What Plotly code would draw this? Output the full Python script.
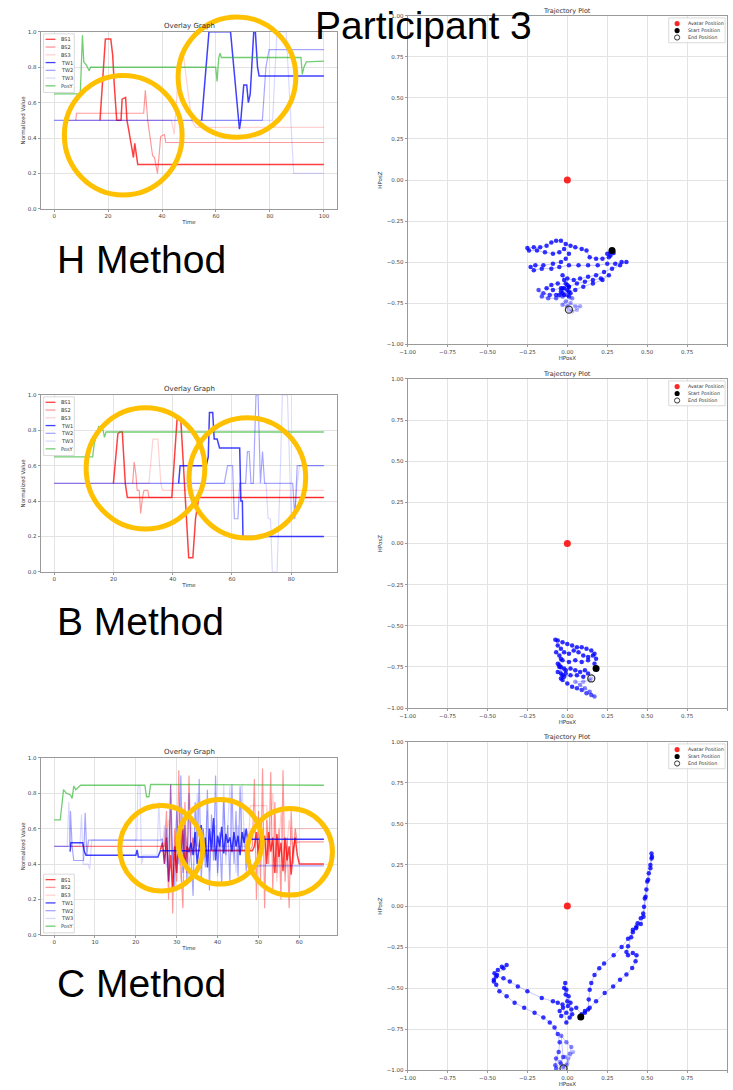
import numpy as np
import plotly.graph_objects as go

W, H = 733, 1090

# ---------------- overlay graph data: H method ----------------
h_bs1_t = [17, 18, 19, 21, 21.7, 22.3, 23.2, 24.8, 25.2, 26.5, 27.0, 27.6, 28.2, 28.8, 29.4, 29.9, 30.4, 31.0, 100]
h_bs1_v = [0.50, 0.75, 0.96, 0.96, 0.87, 0.70, 0.50, 0.50, 0.62, 0.63, 0.50, 0.45, 0.40, 0.33, 0.29, 0.37, 0.30, 0.25, 0.25]
h_bs2_t = [8, 8.3, 33.2, 33.8, 34.7, 35.3, 36.5, 37.2, 38.3, 38.9, 39.5, 40.9, 41.4, 100]
h_bs2_v = [0.50, 0.54, 0.54, 0.67, 0.50, 0.43, 0.30, 0.29, 0.20, 0.30, 0.41, 0.42, 0.375, 0.375]
h_bs3_t = [5, 43.5, 44.5, 46.5, 48, 51, 52.5, 100]
h_bs3_v = [0.50, 0.50, 0.42, 0.87, 0.86, 0.50, 0.46, 0.46]
h_tw1_t = [54.7, 56, 57.4, 65.4, 66.8, 68.0, 68.7, 69.2, 70.3, 71.4, 72.0, 72.7, 73.3, 74.0, 74.6, 75.4, 76.0, 100]
h_tw1_v = [0.50, 0.75, 1.00, 1.00, 0.75, 0.55, 0.45, 0.50, 0.70, 0.70, 0.60, 0.65, 0.80, 1.00, 1.00, 0.80, 0.75, 0.75]
h_tw2_t = [0, 77.2, 78.5, 79.7, 100]
h_tw2_v = [0.50, 0.50, 0.80, 0.90, 0.90]
h_tw3_t = [0, 81, 82.6, 86, 88.8, 100]
h_tw3_v = [0.50, 0.50, 1.00, 1.00, 0.20, 0.20]
h_posy_t = [0, 9.7, 10.5, 11, 12, 13, 13.5, 59.9, 60.4, 61, 61.5, 62, 91.5, 92, 92.6, 93.5, 100]
h_posy_v = [0.65, 0.65, 0.98, 0.83, 0.81, 0.78, 0.80, 0.80, 0.72, 0.85, 0.88, 0.855, 0.855, 0.76, 0.80, 0.83, 0.835]

# ---------------- overlay graph data: B method ----------------
b_bs1_t = [20, 21.5, 22.2, 23.0, 24.0, 24.7, 39.7, 41.5, 42.7, 43.5, 44.3, 45.4, 46.8, 47.7, 48.8, 91]
b_bs1_v = [0.50, 0.78, 0.79, 0.79, 0.50, 0.42, 0.42, 0.87, 0.87, 0.65, 0.42, 0.08, 0.08, 0.30, 0.42, 0.42]
b_bs2_t = [26.5, 27.0, 27.6, 28.0, 28.7, 29.2, 29.8, 30.3, 31.6, 32.0, 91]
b_bs2_v = [0.50, 0.62, 0.55, 0.46, 0.46, 0.33, 0.42, 0.46, 0.46, 0.42, 0.42]
b_bs3_t = [0, 32, 33.3, 35, 36, 36.6, 91]
b_bs3_v = [0.50, 0.50, 0.75, 0.75, 0.50, 0.46, 0.46]
b_tw1_t = [42, 42.5, 51.3, 52.0, 52.4, 53.5, 54.0, 55.0, 55.8, 62.6, 63.0, 63.5, 63.7, 91]
b_tw1_v = [0.50, 0.60, 0.60, 0.65, 0.90, 0.90, 0.75, 0.75, 0.70, 0.70, 0.40, 0.40, 0.20, 0.20]
b_tw2_t = [0, 57.4, 58.5, 60.2, 60.8, 62.0, 62.6, 64.6, 65.2, 65.8, 66.4, 67.2, 68.1, 68.8, 69.6, 70.3, 71.0, 80.5, 81.2, 82.0, 91]
b_tw2_v = [0.50, 0.50, 0.60, 0.60, 0.30, 0.30, 0.50, 0.50, 0.68, 0.68, 0.50, 0.50, 1.00, 1.00, 0.50, 0.68, 0.50, 0.50, 0.30, 0.60, 0.60]
b_tw3_t = [0, 71.5, 72.2, 73.0, 73.6, 75.2, 76.2, 77.0, 78.7, 80.0, 81.0, 82.0, 82.8, 91]
b_tw3_v = [0.50, 0.50, 0.30, 0.30, 0.00, 0.00, 0.50, 1.00, 1.00, 0.30, 0.30, 0.50, 0.60, 0.60]
b_posy_t = [0, 13.0, 13.5, 15.0, 16.5, 17.0, 17.5, 91]
b_posy_v = [0.65, 0.65, 0.72, 0.82, 0.80, 0.76, 0.79, 0.79]

# ---------------- overlay graph data: C method ----------------
c_posy_t = [0, 1.5, 2.3, 3.0, 4.0, 4.4, 4.8, 5.3, 6.5, 22.2, 22.6, 23.2, 23.6, 66]
c_posy_v = [0.65, 0.65, 0.82, 0.80, 0.79, 0.77, 0.84, 0.82, 0.845, 0.845, 0.78, 0.78, 0.85, 0.845]

c_tw1_pre_t = [3.9, 4.1, 4.4, 7.0, 7.4, 7.8, 8.3, 20.0, 20.3, 20.6, 25.4, 26.0, 32.5]
c_tw1_pre_v = [0.47, 0.52, 0.52, 0.52, 0.47, 0.45, 0.45, 0.45, 0.48, 0.44, 0.44, 0.475, 0.475]
c_tw1_noisy = [0.47, 0.52, 0.45, 0.58, 0.40, 0.50, 0.62, 0.44, 0.55, 0.38, 0.60, 0.48, 0.66, 0.42, 0.56, 0.50,
               0.61, 0.46, 0.57, 0.52, 0.55, 0.47, 0.58, 0.50, 0.56, 0.45, 0.58, 0.52, 0.60, 0.50, 0.54]
c_tw1_end = 0.54

c_bs1_noisy_a = [0.48, 0.52, 0.40, 0.55, 0.30, 0.45, 0.25, 0.50, 0.35, 0.58, 0.42, 0.60, 0.38, 0.50, 0.475]
c_bs1_mid = 0.475
c_bs1_noisy_b = [0.50, 0.58, 0.45, 0.60, 0.52, 0.56, 0.40, 0.58, 0.47, 0.55, 0.35, 0.57, 0.44, 0.52, 0.36, 0.55,
                 0.42, 0.50, 0.34, 0.48, 0.55, 0.45, 0.40, 0.40]
c_bs1_end = 0.40

c_bs2_pre_t = [3.9, 27.0]
c_bs2_pre_v = [0.50, 0.50]
c_bs2_noisy_a = [0.70, 0.20, 0.85, 0.12, 0.60, 0.30, 0.93, 0.40, 0.15, 0.75, 0.35, 0.90, 0.45, 0.55, 0.48, 0.48, 0.48]
c_bs2_mid = 0.48
c_bs2_noisy_b = [0.50, 0.88, 0.20, 0.70, 0.30, 0.94, 0.15, 0.65, 0.40, 0.92, 0.25, 0.75, 0.35, 0.60, 0.20, 0.93,
                 0.30, 0.55, 0.15, 0.70, 0.40, 0.60, 0.52, 0.525, 0.525]
c_bs2_end = 0.525

c_bs3_t = [0, 27, 28, 29, 30, 31, 32, 33, 34, 35, 36, 47.5, 48, 52, 52.5, 53.5, 54.5, 55.5, 56.5, 57.5, 58.5, 59, 66]
c_bs3_v = [0.50, 0.50, 0.65, 0.35, 0.70, 0.30, 0.60, 0.40, 0.55, 0.50, 0.50, 0.50, 0.73, 0.73, 0.45, 0.80, 0.30,
           0.70, 0.35, 0.65, 0.45, 0.60, 0.60]

c_tw2_pre_t = [0, 3.8, 4.0, 4.4, 4.8, 7.2, 7.6, 8.0, 8.4, 26.0]
c_tw2_pre_v = [0.50, 0.50, 0.70, 0.50, 0.42, 0.42, 0.69, 0.45, 0.535, 0.535]
c_tw2_noisy = [0.54, 0.40, 0.60, 0.30, 0.85, 0.45, 0.25, 0.70, 0.40, 0.90, 0.35, 0.62, 0.28, 0.80, 0.45, 0.22,
               0.75, 0.50, 0.88, 0.30, 0.60, 0.38, 0.82, 0.25, 0.68, 0.42, 0.90, 0.35, 0.58, 0.28, 0.77, 0.45,
               0.62, 0.30, 0.85, 0.40, 0.70, 0.33, 0.84, 0.48, 0.60, 0.36, 0.55, 0.40, 0.39]
c_tw2_end = 0.39

c_tw3_pre_t = [0, 3.2, 3.6, 4.0, 6.3, 6.7, 7.1, 8.3, 8.7, 9.2, 20.2, 20.5, 21.0, 21.4, 21.8, 25.2, 25.6, 26.0]
c_tw3_pre_v = [0.50, 0.50, 0.75, 0.50, 0.50, 0.68, 0.40, 0.40, 0.37, 0.535, 0.535, 0.84, 0.84, 0.40, 0.45, 0.45,
               0.75, 0.55]
c_tw3_noisy = [0.50, 0.62, 0.38, 0.55, 0.70, 0.42, 0.50, 0.35, 0.60, 0.48, 0.72, 0.40, 0.55, 0.30, 0.65, 0.50,
               0.45, 0.80, 0.52, 0.38, 0.60, 0.44, 0.70, 0.36, 0.58, 0.47, 0.62, 0.33, 0.55, 0.49, 0.85, 0.40,
               0.60, 0.84, 0.45, 0.55, 0.35, 0.62, 0.50, 0.85, 0.55, 0.45, 0.54]
c_tw3_end = 0.54

# ---------------- trajectory data (HPosX, HPosZ) ----------------
avatar_pos = (0.0, 0.0)

traj_h_x = [0.28, 0.27, 0.25, 0.27, 0.29, 0.26, 0.22, 0.18, 0.14, 0.12, 0.09, 0.05, 0.02, -0.01, -0.04, -0.07,
            -0.10, -0.13, -0.17, -0.21, -0.25, -0.24, -0.19, -0.14, -0.09, -0.05, -0.02, 0.01, -0.01, -0.04,
            -0.09, -0.15, -0.20, -0.23, -0.21, -0.16, -0.10, -0.05, 0.01, 0.07, 0.13, 0.19, 0.25, 0.30, 0.34,
            0.37, 0.33, 0.28, 0.23, 0.18, 0.13, 0.08, 0.04, 0.00, -0.03, -0.02, -0.01, 0.01, -0.03, 0.00,
            -0.04, 0.02, -0.02, 0.01, -0.05, -0.02, 0.00, -0.06, -0.10, -0.13, -0.09,
            -0.04, 0.01, 0.06, 0.11, 0.16, 0.21, 0.26, 0.22, 0.16, 0.10, 0.05, 0.01, -0.03, -0.07, -0.11,
            -0.15, -0.18, -0.16, -0.12, -0.07, -0.03, 0.00, 0.03, -0.01, -0.03, 0.00, 0.02, 0.05, 0.08, 0.06,
            0.03, 0.01]
traj_h_z = [-0.43, -0.44, -0.45, -0.46, -0.445, -0.47, -0.48, -0.48, -0.47, -0.43, -0.42, -0.41, -0.40, -0.39,
            -0.37, -0.37, -0.38, -0.40, -0.41, -0.41, -0.415, -0.43, -0.43, -0.44, -0.45, -0.44, -0.42, -0.45,
            -0.48, -0.50, -0.51, -0.52, -0.52, -0.53, -0.55, -0.54, -0.54, -0.53, -0.52, -0.52, -0.52, -0.52,
            -0.51, -0.51, -0.50, -0.50, -0.52, -0.54, -0.56, -0.58, -0.59, -0.60, -0.61, -0.60, -0.58, -0.61,
            -0.63, -0.65, -0.66, -0.67, -0.68, -0.69, -0.70, -0.71, -0.70, -0.66, -0.64,
            -0.63, -0.64, -0.66, -0.67, -0.66, -0.65, -0.63, -0.62, -0.61, -0.60, -0.58, -0.61, -0.63, -0.65,
            -0.67, -0.68, -0.69, -0.70, -0.70, -0.69, -0.67, -0.71, -0.72, -0.72, -0.71, -0.70, -0.72, -0.74,
            -0.76, -0.77, -0.75, -0.77, -0.77, -0.79, -0.80, -0.79]

traj_b_x = [0.18, 0.17, 0.18, 0.17, 0.15, 0.12, 0.09, 0.06, 0.03, 0.00, -0.03, -0.06, -0.075, -0.06, -0.04,
            -0.07, -0.05, -0.02, 0.01, 0.04, 0.07, 0.10, 0.13, 0.16, 0.13, 0.09, 0.05, 0.01, -0.03, -0.06,
            -0.04, -0.05, -0.02, -0.06, -0.03, -0.05, -0.01, -0.04,
            -0.04, -0.01, 0.02, 0.05, 0.08, 0.11, 0.13, 0.10, 0.06, 0.02, -0.02, -0.04, -0.03, 0.00, 0.03,
            0.06, 0.09, 0.12, 0.15, 0.17, 0.14, 0.11, 0.08, 0.05, 0.10, 0.14, 0.15]
traj_b_z = [-0.76, -0.73, -0.70, -0.67, -0.65, -0.64, -0.63, -0.63, -0.62, -0.61, -0.60, -0.59, -0.585, -0.62,
            -0.64, -0.66, -0.68, -0.66, -0.67, -0.65, -0.66, -0.68, -0.69, -0.68, -0.71, -0.72, -0.71, -0.72,
            -0.71, -0.73, -0.70, -0.74, -0.76, -0.78, -0.80, -0.75, -0.79, -0.82,
            -0.75, -0.77, -0.76, -0.77, -0.78, -0.77, -0.79, -0.81, -0.80, -0.80, -0.81, -0.79,
            -0.83, -0.85, -0.87, -0.88, -0.89, -0.91, -0.92, -0.93, -0.90, -0.88, -0.86, -0.84, -0.84, -0.83,
            -0.82]

traj_c_x = [0.084, 0.11, 0.13, 0.134, 0.14, 0.15, 0.17, 0.20, 0.23, 0.29, 0.34, 0.38, 0.41, 0.43, 0.44, 0.46,
            0.475, 0.48, 0.485, 0.495, 0.50, 0.51, 0.52, 0.527, 0.527, 0.53, 0.52, 0.506, 0.49, 0.477, 0.46,
            0.433, 0.41, 0.40, 0.38, 0.37, 0.38, 0.41, 0.433, 0.427, 0.406, 0.37, 0.33, 0.287, 0.234, 0.18,
            0.14, 0.11, 0.09, 0.056, 0.025, 0.02, 0.008, -0.006, -0.013, -0.02, -0.01, 0.0, 0.004, -0.027,
            -0.048, -0.038, -0.006, 0.03, 0.015, -0.006, -0.03, -0.06, -0.09, -0.16, -0.25, -0.31, -0.36,
            -0.40, -0.445, -0.46, -0.456, -0.435, -0.41, -0.38, -0.40, -0.44, -0.46, -0.445, -0.425, -0.38,
            -0.33, -0.27, -0.205, -0.15, -0.11, -0.08, -0.06, -0.048, -0.054, -0.07, -0.075, -0.07, -0.04,
            -0.027, -0.038, -0.006, 0.025, 0.015, -0.017, -0.048, -0.027, -0.006, 0.004, 0.036, 0.0, -0.024]
traj_c_z = [-0.677, -0.65, -0.63, -0.57, -0.51, -0.47, -0.42, -0.38, -0.35, -0.30, -0.25, -0.20, -0.16, -0.135,
            -0.105, -0.075, -0.045, -0.005, 0.045, 0.10, 0.15, 0.20, 0.25, 0.29, 0.32, 0.30, 0.23, 0.16, 0.057,
            -0.065, -0.11, -0.125, -0.145, -0.19, -0.246, -0.28, -0.30, -0.287, -0.30, -0.337, -0.378, -0.418,
            -0.45, -0.49, -0.53, -0.58, -0.62, -0.64, -0.66, -0.62, -0.63, -0.59, -0.55, -0.51, -0.47, -0.50,
            -0.54, -0.58, -0.61, -0.62, -0.64, -0.67, -0.65, -0.66, -0.68, -0.71, -0.60, -0.59, -0.58, -0.56,
            -0.52, -0.49, -0.46, -0.44, -0.43, -0.45, -0.41, -0.39, -0.37, -0.36, -0.38, -0.42, -0.46, -0.48,
            -0.52, -0.55, -0.59, -0.62, -0.65, -0.68, -0.71, -0.74, -0.78, -0.83, -0.89, -0.93, -0.97, -0.99,
            -0.96, -0.92, -0.79, -0.83, -0.86, -0.90, -0.92, -0.95, -0.98, -0.97, -0.93, -0.89, -0.96, -0.99]

# ---------------- styling ----------------
SERIES_STYLE = {
    "BS1": dict(color="rgba(255,0,0,0.75)", width=1.5),
    "BS2": dict(color="rgba(255,0,0,0.40)", width=1.2),
    "BS3": dict(color="rgba(255,0,0,0.18)", width=1.2),
    "TW1": dict(color="rgba(0,0,255,0.75)", width=1.5),
    "TW2": dict(color="rgba(0,0,255,0.35)", width=1.2),
    "TW3": dict(color="rgba(0,0,255,0.15)", width=1.2),
    "PosY": dict(color="rgba(40,180,40,0.65)", width=1.3),
}
ORANGE = "#FFC000"
GRID = "#e3e3e3"
FRAME = "#9a9a9a"
TICKFONT = dict(family="DejaVu Sans", size=5.5, color="#444")
BIGFONT = dict(family="Liberation Sans, Arial", size=39, color="black")


def join(*parts):
    """parts: (times, values) pairs or (t0, step, values) triples for evenly sampled bits"""
    ts, vs = [], []
    for p in parts:
        if len(p) == 3:
            t0, step, vals = p
            ts += list(t0 + step * np.arange(len(vals)))
            vs += list(vals)
        else:
            ts += list(p[0])
            vs += list(p[1])
    return ts, vs


def px(x):
    return x / W


def py(y):
    return 1 - y / H


def label(text, x, y, size, xanchor="center", **font):
    return dict(text=text, x=px(x), y=py(y), xref="paper", yref="paper", showarrow=False,
                xanchor=xanchor, yanchor="middle", font=dict(size=size, color="#333", **font))


overlays = {
    "H": {
        "BS1": (h_bs1_t, h_bs1_v), "BS2": (h_bs2_t, h_bs2_v), "BS3": (h_bs3_t, h_bs3_v),
        "TW1": (h_tw1_t, h_tw1_v), "TW2": (h_tw2_t, h_tw2_v), "TW3": (h_tw3_t, h_tw3_v),
        "PosY": (h_posy_t, h_posy_v),
    },
    "B": {
        "BS1": (b_bs1_t, b_bs1_v), "BS2": (b_bs2_t, b_bs2_v), "BS3": (b_bs3_t, b_bs3_v),
        "TW1": (b_tw1_t, b_tw1_v), "TW2": (b_tw2_t, b_tw2_v), "TW3": (b_tw3_t, b_tw3_v),
        "PosY": (b_posy_t, b_posy_v),
    },
    "C": {
        "BS1": join((26.0, 0.5, c_bs1_noisy_a), ([48.5], [c_bs1_mid]), (49.0, 0.5, c_bs1_noisy_b), ([66], [c_bs1_end])),
        "BS2": join((c_bs2_pre_t, c_bs2_pre_v), (27.5, 0.5, c_bs2_noisy_a), ([48.0], [c_bs2_mid]),
                    (48.5, 0.5, c_bs2_noisy_b), ([66], [c_bs2_end])),
        "BS3": (c_bs3_t, c_bs3_v),
        "TW1": join((c_tw1_pre_t, c_tw1_pre_v), (33.0, 0.5, c_tw1_noisy), ([48.5, 66], [c_tw1_end, c_tw1_end])),
        "TW2": join((c_tw2_pre_t, c_tw2_pre_v), (26.5, 0.5, c_tw2_noisy), ([48.5, 66], [c_tw2_end, c_tw2_end])),
        "TW3": join((c_tw3_pre_t, c_tw3_pre_v), (26.5, 0.5, c_tw3_noisy), ([48.0, 66], [c_tw3_end, c_tw3_end])),
        "PosY": (c_posy_t, c_posy_v),
    },
}

trajectories = {
    "H": (traj_h_x, traj_h_z),
    "B": (traj_b_x, traj_b_z),
    "C": (traj_c_x, traj_c_z),
}

# pixel boxes of the panels (left, right, top, bottom)
overlay_box = {"H": (33, 333, 29, 207), "B": (33, 333, 394, 572), "C": (33, 333, 759, 937)}
traj_box = {"H": (404, 727, 13, 343), "B": (404, 727, 378, 709), "C": (404, 727, 743, 1073)}
overlay_xrange = {"H": [-5, 105], "B": [-4.55, 95.55], "C": [-3.3, 69.3]}
overlay_xtick = {"H": 20, "B": 20, "C": 10}
method_label_y = {"H": 258, "B": 622, "C": 986}

fig = go.Figure()
layout = dict(
    width=W, height=H, margin=dict(l=0, r=0, t=0, b=0),
    paper_bgcolor="white", plot_bgcolor="white", showlegend=False,
    font=dict(family="DejaVu Sans", color="#333"),
)
annotations, shapes = [], []

axis_common = dict(
    showgrid=True, gridcolor=GRID, gridwidth=1, zeroline=False,
    showline=True, linecolor=FRAME, linewidth=1, mirror=True,
    ticks="outside", ticklen=2, tickcolor=FRAME, tickfont=TICKFONT,
)

for i, m in enumerate(["H", "B", "C"]):
    ox, oy = 2 * i + 1, 2 * i + 2  # overlay axis index, trajectory axis index
    sx = "" if ox == 1 else str(ox)

    # ---- overlay graph ----
    l, r, t, b = overlay_box[m]
    layout[f"xaxis{sx}"] = dict(axis_common, domain=[px(l), px(r)], anchor=f"y{sx}",
                                range=overlay_xrange[m], dtick=overlay_xtick[m], tick0=0,
                                title=dict(text="Time", font=dict(size=5.5), standoff=1))
    layout[f"yaxis{sx}"] = dict(axis_common, domain=[py(b), py(t)], anchor=f"x{sx}",
                                range=[0, 1], dtick=0.2, tickformat=".1f",
                                title=dict(text="Normalized Value", font=dict(size=5.5), standoff=1))
    for name in ["BS1", "BS2", "BS3", "TW1", "TW2", "TW3", "PosY"]:
        tt, vv = overlays[m][name]
        fig.add_trace(go.Scatter(x=tt, y=vv, mode="lines", name=name, line=SERIES_STYLE[name],
                                 xaxis=f"x{sx}", yaxis=f"y{sx}"))
    annotations.append(label("Overlay Graph", (l + r) / 2, t - 6, 7))

    # overlay legend (drawn by hand to keep matplotlib-like compact rows)
    names = ["BS1", "BS2", "BS3", "TW1", "TW2", "TW3", "PosY"]
    ly0 = 876 if m == "C" else t + 2
    shapes.append(dict(type="rect", xref="paper", yref="paper", x0=px(l + 3), x1=px(l + 34),
                       y0=py(ly0), y1=py(ly0 + 59), line=dict(color="#d0d0d0", width=0.8),
                       fillcolor="rgba(255,255,255,0.85)", layer="above"))
    for k, name in enumerate(names):
        yy = ly0 + 5.5 + 7.8 * k
        shapes.append(dict(type="line", xref="paper", yref="paper", x0=px(l + 5), x1=px(l + 15),
                           y0=py(yy), y1=py(yy), line=dict(color=SERIES_STYLE[name]["color"], width=1.3),
                           layer="above"))
        annotations.append(label(name, l + 19, yy, 5, xanchor="left"))

    # ---- trajectory plot ----
    l, r, t, b = traj_box[m]
    tx = str(oy)
    layout[f"xaxis{tx}"] = dict(axis_common, domain=[px(l), px(r)], anchor=f"y{tx}",
                                range=[-1, 1], dtick=0.25, tick0=-1, tickformat=".2f",
                                title=dict(text="HPosX", font=dict(size=5.5), standoff=1))
    layout[f"yaxis{tx}"] = dict(axis_common, domain=[py(b), py(t)], anchor=f"x{tx}",
                                range=[-1, 1], dtick=0.25, tick0=-1, tickformat=".2f",
                                title=dict(text="HPosZ", font=dict(size=5.5), standoff=3))
    xs, zs = trajectories[m]
    n = len(xs)
    # later samples drawn fainter, as in the original trajectory render
    fade = [0.8 if k < 0.8 * n else 0.8 - 0.6 * (k - 0.8 * n) / (0.2 * n) for k in range(n)]
    fig.add_trace(go.Scatter(x=xs, y=zs, mode="lines", name="Trajectory path",
                             line=dict(color="rgba(60,60,255,0.3)", width=1),
                             xaxis=f"x{tx}", yaxis=f"y{tx}"))
    fig.add_trace(go.Scatter(x=xs, y=zs, mode="markers", name="Trajectory",
                             marker=dict(color="blue", size=4.5, opacity=fade, line=dict(width=0)),
                             xaxis=f"x{tx}", yaxis=f"y{tx}"))
    fig.add_trace(go.Scatter(x=[avatar_pos[0]], y=[avatar_pos[1]], mode="markers", name="Avatar Position",
                             marker=dict(color="rgba(255,0,0,0.85)", size=7),
                             xaxis=f"x{tx}", yaxis=f"y{tx}"))
    fig.add_trace(go.Scatter(x=[xs[0]], y=[zs[0]], mode="markers", name="Start Position",
                             marker=dict(color="black", size=7),
                             xaxis=f"x{tx}", yaxis=f"y{tx}"))
    fig.add_trace(go.Scatter(x=[xs[-1]], y=[zs[-1]], mode="markers", name="End Position",
                             marker=dict(symbol="circle-open", color="#333", size=7, line=dict(width=1.3)),
                             xaxis=f"x{tx}", yaxis=f"y{tx}"))
    annotations.append(label("Trajectory Plot", (l + r) / 2, t - 5, 6.5))

    # trajectory legend
    shapes.append(dict(type="rect", xref="paper", yref="paper", x0=px(r - 59), x1=px(r - 2),
                       y0=py(t + 2), y1=py(t + 27), line=dict(color="#d0d0d0", width=0.8),
                       fillcolor="rgba(255,255,255,0.85)", layer="above"))
    legend_items = [("Avatar Position", "rgba(255,0,0,0.85)", None),
                    ("Start Position", "black", None),
                    ("End Position", "white", "#333")]
    for k, (text, fill, edge) in enumerate(legend_items):
        yy = t + 7.7 + 7 * k
        cx = r - 50.5
        shapes.append(dict(type="circle", xref="paper", yref="paper", x0=px(cx - 2.6), x1=px(cx + 2.6),
                           y0=py(yy + 2.6), y1=py(yy - 2.6), fillcolor=fill,
                           line=dict(color=edge or fill, width=1 if edge else 0), layer="above"))
        annotations.append(label(text, r - 42, yy, 4.8, xanchor="left"))

    # method label
    annotations.append(dict(text=f"{m} Method", x=px(48), y=py(method_label_y[m]), xref="paper", yref="paper",
                            xanchor="left", yanchor="middle", showarrow=False, font=BIGFONT))

# highlight circles (pixel boxes: left, right, top, bottom)
highlight_circles = [
    (57, 176, 73, 193), (172, 291, 14, 135),
    (79, 199, 407, 529), (183, 301, 417, 538),
    (113, 197, 807, 893), (172, 257, 801, 886), (242, 328, 810, 897),
]
for (cl, cr, ct, cb) in highlight_circles:
    shapes.append(dict(type="circle", xref="paper", yref="paper", x0=px(cl), x1=px(cr),
                       y0=py(cb), y1=py(ct), line=dict(color=ORANGE, width=5), layer="above"))

annotations.append(dict(text="Participant 3", x=px(420), y=py(23), xref="paper", yref="paper",
                        xanchor="center", yanchor="middle", showarrow=False, font=BIGFONT))

layout["annotations"] = annotations
layout["shapes"] = shapes
fig.update_layout(**layout)

# drop the browser's default body margin so the figure sits flush in the window
fig.write_html("out.html", config={"displayModeBar": False},
               post_script="document.body.style.margin='0';document.body.style.overflow='hidden';")
